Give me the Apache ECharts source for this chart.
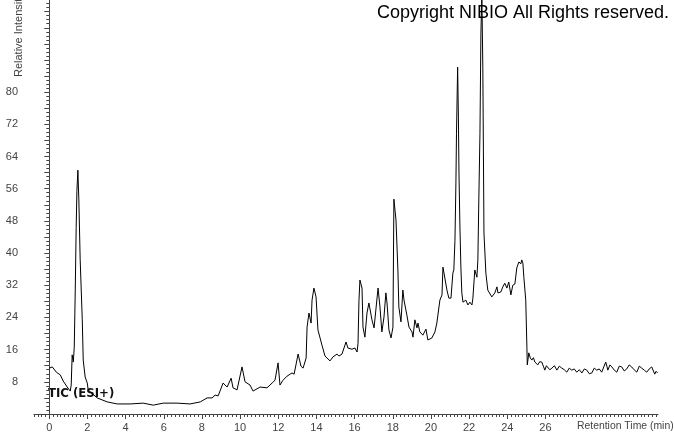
<!DOCTYPE html>
<html>
<head>
<meta charset="utf-8">
<script src="https://cdn.jsdelivr.net/npm/echarts@6/dist/echarts.min.js"></script>
<style>
  html, body { margin: 0; padding: 0; background: #fff; }
  #main { width: 674px; height: 434px; }
</style>
</head>
<body>
<div id="main"></div>
<script>
// retention time (min)
const retentionTime = [
  0.00, 0.16, 0.37, 0.58, 0.73, 0.94, 1.10, 1.15, 1.20, 1.26, 1.31, 1.36, 1.41, 1.45, 1.50,
  1.55, 1.62, 1.73, 1.78, 1.88, 1.99, 2.04, 2.15, 2.51, 3.04, 3.56, 4.24, 4.92, 5.45, 5.97,
  6.70, 7.38, 7.91, 8.27, 8.53, 8.69, 8.85, 9.11, 9.32, 9.53, 9.63, 9.84, 10.10, 10.26, 10.52,
  10.68, 11.05, 11.41, 11.68, 11.83, 11.99, 12.09, 12.25, 12.46, 12.72, 12.83, 13.04, 13.19, 13.30,
  13.46, 13.51, 13.61, 13.72, 13.77, 13.87, 13.98, 14.08, 14.29, 14.45, 14.71, 14.87, 15.08, 15.18,
  15.34, 15.55, 15.65, 15.86, 16.02, 16.13, 16.18, 16.23, 16.28, 16.39, 16.44, 16.54, 16.65, 16.75,
  16.91, 17.02, 17.12, 17.23, 17.33, 17.43, 17.54, 17.64, 17.70, 17.80, 17.91, 18.01, 18.06, 18.17,
  18.27, 18.32, 18.43, 18.53, 18.59, 18.74, 18.85, 19.01, 19.06, 19.16, 19.27, 19.32, 19.42, 19.58,
  19.74, 19.84, 20.05, 20.21, 20.31, 20.47, 20.58, 20.63, 20.73, 20.84, 20.94, 21.05, 21.15, 21.20,
  21.26, 21.31, 21.34, 21.40, 21.44, 21.47, 21.52, 21.57, 21.62, 21.68, 21.83, 21.94, 22.04, 22.15,
  22.20, 22.30, 22.41, 22.46, 22.51, 22.57, 22.62, 22.67, 22.72, 22.75, 22.78, 22.88, 22.98, 23.19,
  23.35, 23.46, 23.51, 23.66, 23.77, 23.87, 23.98, 24.08, 24.19, 24.29, 24.40, 24.50, 24.61, 24.71,
  24.76, 24.82, 24.87, 24.97, 25.03, 25.05, 25.13, 25.21, 25.29, 25.37, 25.45, 25.53, 25.60, 25.70,
  25.81, 25.89, 25.97, 26.05, 26.13, 26.23, 26.34, 26.47, 26.60, 26.73, 26.86, 26.99, 27.12, 27.25,
  27.38, 27.51, 27.64, 27.78, 27.91, 28.04, 28.17, 28.30, 28.43, 28.56, 28.69, 28.82, 28.95, 29.05,
  29.16, 29.22, 29.27, 29.38, 29.48, 29.61, 29.74, 29.87, 30.00, 30.13, 30.26, 30.39, 30.52, 30.65,
  30.79, 30.92, 31.05, 31.18, 31.31, 31.44, 31.57, 31.65, 31.73, 31.80, 31.88
]
// relative intensity (%)
const intensity = [
  11.4, 11.7, 10.4, 9.7, 8.2, 6.7, 5.7, 7.2, 14.7, 12.9, 16.6, 30.1, 46.4, 55.6, 60.6,
  53.2, 38.3, 23.4, 13.4, 9.2, 7.7, 6.0, 5.5, 4.0, 3.0, 2.5, 2.5, 2.7, 2.2, 2.7,
  2.7, 2.5, 3.0, 4.0, 4.0, 4.7, 4.5, 7.7, 6.7, 8.9, 6.5, 6.0, 11.7, 8.0, 7.2,
  5.7, 6.7, 6.5, 7.7, 8.4, 12.7, 7.2, 8.4, 9.4, 10.2, 9.9, 14.9, 11.9, 11.4,
  13.9, 21.6, 25.1, 22.6, 28.3, 31.3, 29.1, 20.9, 17.1, 14.4, 13.2, 14.2, 14.9, 14.4,
  14.9, 17.9, 16.4, 16.1, 16.4, 15.4, 17.6, 28.3, 33.3, 31.3, 21.6, 19.1, 25.1, 27.6,
  23.4, 21.4, 21.6, 31.3, 26.6, 20.4, 24.1, 30.1, 27.6, 20.9, 18.9, 21.6, 53.4, 48.2,
  35.8, 26.6, 22.9, 30.8, 28.3, 24.6, 21.6, 20.4, 19.1, 23.4, 21.4, 22.6, 20.4, 19.6,
  21.1, 18.4, 18.9, 20.4, 22.6, 28.3, 29.6, 36.5, 33.8, 30.8, 28.8, 28.8, 35.0, 35.8,
  43.2, 57.4, 69.8, 86.2, 73.8, 59.9, 46.5, 36.5, 30.1, 27.8, 28.3, 27.1, 27.8, 27.1,
  28.8, 35.8, 34.0, 38.3, 53.2, 69.8, 94.7, 104.0, 86.2, 65.6, 45.0, 35.0, 30.8, 29.1,
  30.1, 31.6, 30.1, 30.3, 31.6, 32.5, 31.3, 32.8, 29.6, 32.0, 32.3, 36.3, 37.8, 37.3,
  38.3, 37.5, 34.0, 28.3, 16.6, 12.2, 15.2, 13.9, 13.4, 14.0, 12.9, 13.3, 12.2, 13.0,
  12.9, 11.9, 10.9, 12.0, 12.2, 11.0, 11.4, 12.0, 10.9, 11.9, 11.4, 11.0, 10.4, 11.4,
  10.9, 11.2, 10.4, 11.0, 10.2, 11.2, 10.9, 10.0, 10.2, 11.4, 10.9, 11.2, 10.4, 10.6,
  12.9, 11.9, 10.9, 12.2, 11.7, 10.9, 10.4, 11.9, 11.7, 10.7, 11.2, 12.2, 11.7, 11.0,
  10.4, 11.9, 11.4, 10.9, 10.4, 11.2, 11.7, 11.4, 9.9, 10.6, 10.2
]
const xTickLabels = [0, 2, 4, 6, 8, 10, 12, 14, 16, 18, 20, 22, 24, 26]
const yTickLabels = [8, 16, 24, 32, 40, 48, 56, 64, 72, 80]

const X_MIN = -0.8, X_MAX = 31.9
const Y_MIN = 0, Y_MAX = 102.9

// tick positions (major + minor)
const xMinor = []
for (let i = -4; i <= 159; i++) xMinor.push(+(i * 0.2).toFixed(1))
const yMajor = []
for (let v = 0; v <= 100; v += 4) yMajor.push(v)
const yMinor = []
for (let v = 0; v <= 102; v += 1) yMinor.push(v)

const labelStyle = { color: '#444', fontSize: 11, fontFamily: 'Liberation Sans, Arial, sans-serif' }

const myChart = echarts.init(document.getElementById('main'))
myChart.setOption({
  animation: false,
  backgroundColor: '#fff',
  grid: { left: 34, top: 0, right: 16, bottom: 20 },
  xAxis: [
    {
      type: 'value', min: X_MIN, max: X_MAX,
      axisLine: { lineStyle: { color: '#444', width: 1 } },
      axisTick: { length: 5, lineStyle: { color: '#444' }, customValues: xTickLabels },
      axisLabel: Object.assign({ margin: 8, customValues: xTickLabels }, labelStyle),
      splitLine: { show: false }
    },
    {
      type: 'value', min: X_MIN, max: X_MAX, position: 'bottom',
      axisLine: { show: false },
      axisTick: { length: 3, lineStyle: { color: '#444' }, customValues: xMinor },
      axisLabel: { show: false },
      splitLine: { show: false }
    }
  ],
  yAxis: [
    {
      type: 'value', min: Y_MIN, max: Y_MAX,
      axisLine: { show: true, lineStyle: { color: '#444', width: 1 } },
      axisTick: { show: true, length: 5, lineStyle: { color: '#444' }, customValues: yMajor },
      axisLabel: Object.assign({ margin: 16, customValues: yTickLabels }, labelStyle),
      splitLine: { show: false }
    },
    {
      type: 'value', min: Y_MIN, max: Y_MAX, position: 'left',
      axisLine: { show: false },
      axisTick: { show: true, length: 3, lineStyle: { color: '#444' }, customValues: yMinor },
      axisLabel: { show: false },
      splitLine: { show: false }
    }
  ],
  series: [
    {
      type: 'line',
      xAxisIndex: 0,
      yAxisIndex: 0,
      data: retentionTime.map((t, i) => [t, intensity[i]]),
      symbol: 'none',
      lineStyle: { color: '#000', width: 1 },
      clip: true
    }
  ],
  graphic: [
    {
      type: 'text', x: 377, y: 4,
      style: { text: 'Copyright NIBIO All Rights reserved.', fill: '#000', fontSize: 18, fontFamily: 'Liberation Sans, Arial, sans-serif' }
    },
    {
      type: 'text', x: 48, y: 387,
      style: { text: 'TIC (ESI+)', fill: '#111', fontSize: 13, fontWeight: 'bold', fontFamily: 'DejaVu Sans Condensed, Liberation Sans, sans-serif' }
    },
    {
      type: 'text', x: 577, y: 421,
      style: { text: 'Retention Time (min)', fill: '#444', fontSize: 10.4, fontFamily: 'Liberation Sans, Arial, sans-serif' }
    },
    {
      type: 'text', x: 13, y: 77, rotation: Math.PI / 2,
      style: { text: 'Relative Intensity', fill: '#444', fontSize: 11, fontFamily: 'Liberation Sans, Arial, sans-serif' }
    }
  ]
})
</script>
</body>
</html>
